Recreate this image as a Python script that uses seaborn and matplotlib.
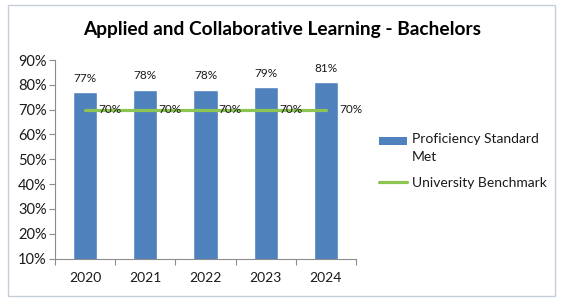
import matplotlib
matplotlib.use("Agg")
import matplotlib.pyplot as plt
import seaborn as sns
import pandas as pd
import numpy as np
from matplotlib.patches import Rectangle
from matplotlib.legend_handler import HandlerPatch

years = ["2020", "2021", "2022", "2023", "2024"]
proficiency = [77, 78, 78, 79, 81]
benchmark = [70, 70, 70, 70, 70]
yticks = [10, 20, 30, 40, 50, 60, 70, 80, 90]

sns.set_theme(style="white")
plt.rcParams['font.family'] = ['Lato', 'DejaVu Sans']

df = pd.DataFrame({"Year": years, "Proficiency": proficiency, "Benchmark": benchmark})

W, H = 563, 303
fig = plt.figure(figsize=(W/100, H/100), dpi=100)
ax = fig.add_axes([55/W, 1-258.5/H, (356-55)/W, (258.5-60)/H])

bar_color = "#4F81BD"
line_color = "#8DC553"
text_color = "#1a1a1a"
axis_color = "#8C8C8C"

sns.barplot(data=df, x="Year", y="Proficiency", color=bar_color, width=0.4,
            saturation=1, ax=ax, label="Proficiency Standard\nMet")
sns.lineplot(data=df, x="Year", y="Benchmark", color=line_color, linewidth=2.3,
             ax=ax, label="University Benchmark")

ax.set_ylim(10, 90)
ax.set_xlim(-0.5, 4.5)
ax.set_yticks(yticks)
ax.set_yticklabels([f"{v}%" for v in yticks], fontsize=10.5)
ax.set_xlabel("")
ax.set_ylabel("")
ax.tick_params(axis='x', length=0, pad=10, labelsize=10)
ax.tick_params(axis='y', length=4, width=0.8, color=axis_color, left=True, pad=2)
for t in ax.get_yticklabels() + ax.get_xticklabels():
    t.set_color(text_color)

ax.set_xticks(np.arange(-0.5, 5.0, 1.0), minor=True)
ax.tick_params(axis='x', which='minor', length=4, width=0.8, color=axis_color,
               bottom=True, direction='out')

for s in ["top", "right"]:
    ax.spines[s].set_visible(False)
for s in ["left", "bottom"]:
    ax.spines[s].set_color(axis_color)
    ax.spines[s].set_linewidth(0.8)

ax.bar_label(ax.containers[0], fmt="%d%%", padding=6, fontsize=8.5, color=text_color)

for i, v in enumerate(benchmark):
    ax.annotate(f"{v}%", xy=(i, v), xytext=(9.5, 0), textcoords="offset points",
                ha="left", va="center", fontsize=8.5, color=text_color)


class ShiftedPatchHandler(HandlerPatch):
    def __init__(self, shift, **kw):
        super().__init__(**kw)
        self.shift = shift

    def create_artists(self, legend, orig_handle, xdescent, ydescent, width, height, fontsize, trans):
        p = Rectangle((-xdescent, -ydescent + self.shift), width, height,
                      facecolor=bar_color, edgecolor="none", transform=trans)
        return [p]


handles, labels = ax.get_legend_handles_labels()
order = sorted(range(len(labels)), key=lambda k: 0 if labels[k].startswith("Proficiency") else 1)
handles = [handles[k] for k in order]
labels = [labels[k] for k in order]

leg = ax.legend(handles, labels, loc="upper left", bbox_to_anchor=(379/W, 1-133.5/H),
                bbox_transform=fig.transFigure, frameon=False, fontsize=10,
                handlelength=2.0, handleheight=0.55, handletextpad=0.35,
                labelspacing=0.95, borderaxespad=0, borderpad=0,
                handler_map={handles[0]: ShiftedPatchHandler(shift=5.5)})
leg.get_texts()[0].set_linespacing(1.6)
for t in leg.get_texts():
    t.set_color(text_color)

fig.text(282/W, 1-30/H, "Applied and Collaborative Learning - Bachelors",
         ha="center", va="center", fontsize=13.8, fontweight="bold", color="#000000")

fig.patches.append(Rectangle((8/W, 1-296/H), (555-8)/W, (296-5)/H,
                             transform=fig.transFigure, fill=False,
                             edgecolor="#C5CEDB", linewidth=1.0))

fig.savefig("out.png", dpi=100)
